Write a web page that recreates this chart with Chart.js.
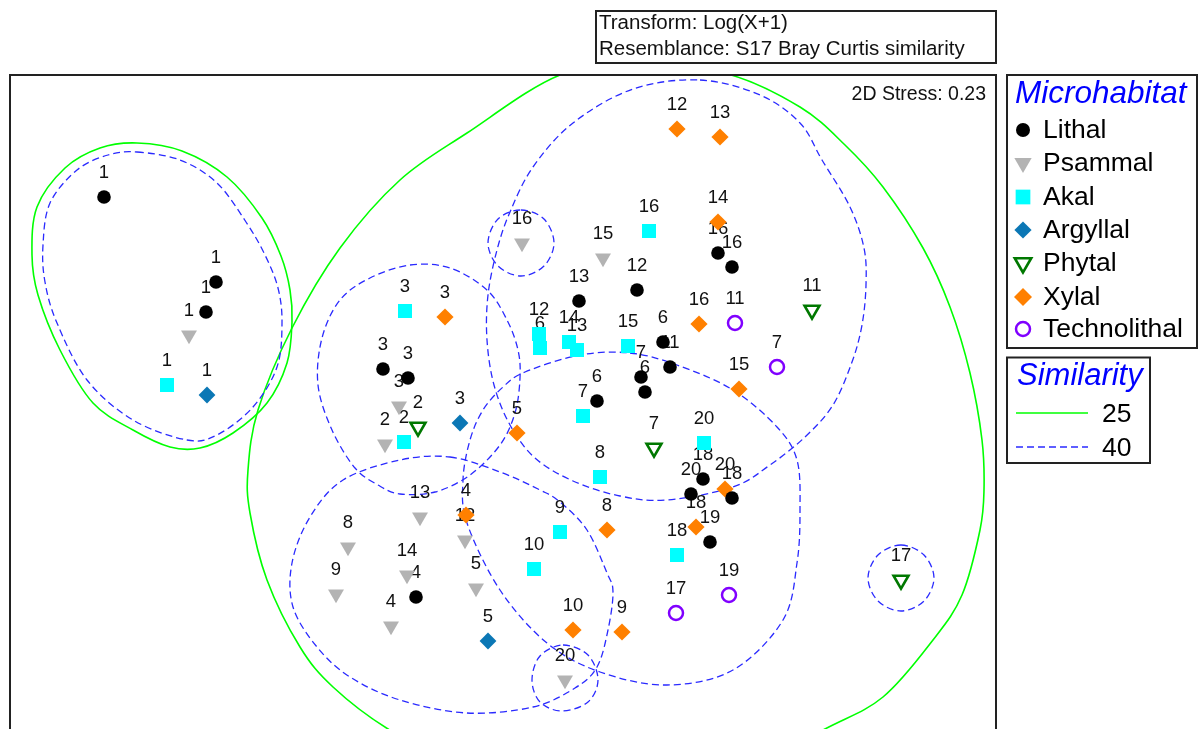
<!DOCTYPE html>
<html><head><meta charset="utf-8">
<script src="https://cdn.jsdelivr.net/npm/chart.js@4.4.1/dist/chart.umd.min.js"></script>
<style>html,body{margin:0;padding:0;background:#fff;overflow:hidden}canvas{display:block}</style>
</head><body>
<canvas id="c" width="1201" height="729"></canvas>
<script>
// ---------- data (NMDS configuration) ----------
const habitats = ['Lithal','Psammal','Akal','Argyllal','Phytal','Xylal','Technolithal'];

const lithalX   = [104,216,206,383,408,579,637,718,732,663,670,641,645,597,703,691,732,710,416];
const lithalY   = [197,282,312,369,378,301,290,253,267,342,367,377,392,401,479,494,498,542,597];
const lithalLab = ['1','1','1','3','3','13','12','16','16','6','11','7','6','6','18','20','18','19','4'];

const psammalX   = [189,399,385,522,603,420,348,336,391,407,465,476,565];
const psammalY   = [335,406,444,243,258,517,547,594,626,575,540,588,680];
const psammalLab = ['1','3','2','16','15','13','8','9','4','14','12','5','20'];

const akalX   = [167,405,404,539,540,569,577,628,583,600,704,649,560,534,677];
const akalY   = [385,311,442,334,348,342,350,346,416,477,443,231,532,569,555];
const akalLab = ['1','3','2','12','6','14','13','15','7','8','20','16','9','10','18'];

const argyllalX   = [207,460,488];
const argyllalY   = [395,423,641];
const argyllalLab = ['1','3','5'];

const phytalX   = [418,654,812,901];
const phytalY   = [427,448,310,580];
const phytalLab = ['2','7','11','17'];

const xylalX   = [677,720,718,445,699,739,517,466,607,573,622,725,696];
const xylalY   = [129,137,222,317,324,389,433,515,530,630,632,489,527];
const xylalLab = ['12','13','14','3','16','15','5','4','8','10','9','20','18'];

const technoX   = [735,777,676,729];
const technoY   = [323,367,613,595];
const technoLab = ['11','7','17','19'];

// similarity contours (25 % and 40 %), outline vertices in plot units
const sim25a = [[137,143],[182,151],[227,177],[262,218],[281,256],[290,290],[292,322],[287,363],[267,403],[233,433],[200,448],[170,447],[133,430],[93,403],[60,350],[38,295],[32,255],[37,207],[65,168],[100,148]];
const sim25b = [[644,63],[728,74],[800,107],[845,145],[883,187],[923,248],[950,307],[970,373],[982,440],[984,490],[980,530],[962,595],[933,640],[883,697],[825,729],[740,772],[606,790],[470,772],[388,729],[333,687],[300,647],[267,580],[250,513],[248,470],[258,410],[292,328],[340,248],[400,180],[467,133],[560,75]];
const sim40a = [[137,152],[180,160],[217,183],[246,222],[265,255],[278,288],[282,323],[277,367],[253,407],[217,435],[187,440],[133,420],[87,380],[57,323],[45,282],[43,245],[50,203],[77,170],[108,155]];
const sim40b = [[700,80],[760,95],[800,123],[822,160],[850,207],[864,248],[866,285],[862,325],[852,362],[833,405],[805,437],[770,465],[733,487],[667,500],[620,496],[573,481],[535,458],[510,425],[494,385],[487,340],[488,295],[497,250],[510,212],[533,167],[573,123],[633,89]];
const sim40c = [[410,265],[450,268],[487,290],[507,320],[518,350],[520,378],[515,413],[500,445],[470,475],[435,492],[400,494],[378,485],[355,468],[332,430],[318,385],[322,338],[340,300],[370,278]];
const sim40d = [[630,353],[677,365],[733,390],[777,427],[797,460],[800,510],[797,563],[783,620],[733,670],[667,685],[600,672],[547,643],[500,590],[467,523],[463,480],[470,440],[483,410],[503,387],[525,372],[580,355]];
const sim40e = [[450,457],[500,472],[540,490],[560,502],[587,530],[607,573],[613,592],[608,630],[597,667],[575,688],[533,707],[467,713],[400,700],[350,677],[317,647],[293,607],[292,563],[310,517],[343,480],[400,460]];
const sim40f = [[521,210],[544,219],[554,243],[544,266],[521,276],[498,266],[488,243],[498,219]];
const sim40g = [[901,545],[924,555],[934,578],[924,601],[901,611],[878,601],[868,578],[878,555]];
const sim40h = [[563,645],[588,655],[598,680],[588,702],[562,711],[540,702],[532,680],[540,656]];
const contours25 = [sim25a, sim25b];
const contours40 = [sim40a, sim40b, sim40c, sim40d, sim40e, sim40f, sim40g, sim40h];

const similarityLevels = ['25','40'];
const stressText = '2D Stress: 0.23';
const headerLines = ['Transform: Log(X+1)', 'Resemblance: S17 Bray Curtis similarity'];

// ---------- chart ----------
const FONT = 'Arial, "Liberation Sans", sans-serif';
const pts = (xs, ys) => xs.map((v, i) => ({x: v, y: ys[i]}));

const styles = [
  {style:'circle',   rot:0,   r:6.8, fill:'#000000', stroke:'#000000', bw:0,   lr:7},
  {style:'triangle', rot:180, r:9.2, fill:'#b3b3b3', stroke:'#b3b3b3', bw:0,   lr:10},
  {style:'rect',     rot:0,   r:9.9, fill:'#00ffff', stroke:'#00ffff', bw:0,   lr:10.4},
  {style:'rectRot',  rot:0,   r:8.4, fill:'#0b77b5', stroke:'#0b77b5', bw:0,   lr:8.6},
  {style:'triangle', rot:180, r:8.6, fill:'rgba(0,0,0,0)', stroke:'#007800', bw:2.6, lr:9.5},
  {style:'rectRot',  rot:0,   r:8.6, fill:'#ff8000', stroke:'#ff8000', bw:0,   lr:9},
  {style:'circle',   rot:0,   r:7,   fill:'rgba(0,0,0,0)', stroke:'#8000ff', bw:2.5, lr:7}
];
const seriesX = [lithalX, psammalX, akalX, argyllalX, phytalX, xylalX, technoX];
const seriesY = [lithalY, psammalY, akalY, argyllalY, phytalY, xylalY, technoY];
const seriesL = [lithalLab, psammalLab, akalLab, argyllalLab, phytalLab, xylalLab, technoLab];

const datasets = habitats.map((h, i) => ({
  label: h,
  data: pts(seriesX[i], seriesY[i]),
  sampleLabels: seriesL[i],
  showLine: false,
  pointStyle: styles[i].style,
  pointRotation: styles[i].rot,
  pointRadius: styles[i].r,
  pointHoverRadius: styles[i].r,
  pointBackgroundColor: styles[i].fill,
  backgroundColor: styles[i].fill,
  pointBorderColor: styles[i].stroke,
  borderColor: styles[i].stroke,
  pointBorderWidth: styles[i].bw,
  borderWidth: styles[i].bw
}));

function closedSpline(ctx, p) {
  const n = p.length;
  ctx.beginPath();
  ctx.moveTo(p[0][0], p[0][1]);
  for (let i = 0; i < n; i++) {
    const p0 = p[(i - 1 + n) % n], p1 = p[i], p2 = p[(i + 1) % n], p3 = p[(i + 2) % n];
    ctx.bezierCurveTo(p1[0] + (p2[0] - p0[0]) / 6, p1[1] + (p2[1] - p0[1]) / 6,
                      p2[0] - (p3[0] - p1[0]) / 6, p2[1] - (p3[1] - p1[1]) / 6,
                      p2[0], p2[1]);
  }
  ctx.closePath();
}

function marker(ctx, s, x, y, r) {
  ctx.save();
  ctx.fillStyle = s.fill; ctx.strokeStyle = s.stroke; ctx.lineWidth = s.bw;
  if (Chart.helpers && Chart.helpers.drawPoint) {
    Chart.helpers.drawPoint(ctx, {pointStyle: s.style, rotation: s.rot, radius: r, borderWidth: s.bw}, x, y);
  }
  ctx.restore();
}

const decor = {
  id: 'nmdsDecor',
  beforeDatasetsDraw(chart) {
    const {ctx, chartArea: a, scales: {x, y}} = chart;
    const toPx = c => c.map(q => [x.getPixelForValue(q[0]), y.getPixelForValue(q[1])]);
    ctx.save();
    ctx.beginPath(); ctx.rect(a.left, a.top, a.right - a.left, a.bottom - a.top); ctx.clip();
    ctx.lineJoin = 'round';
    ctx.strokeStyle = '#00ff00'; ctx.lineWidth = 1.6; ctx.setLineDash([]);
    contours25.forEach(c => { closedSpline(ctx, toPx(c)); ctx.stroke(); });
    ctx.strokeStyle = '#2a2aff'; ctx.lineWidth = 1.3; ctx.setLineDash([7, 4]);
    contours40.forEach(c => { closedSpline(ctx, toPx(c)); ctx.stroke(); });
    ctx.setLineDash([]);
    // sample labels
    ctx.fillStyle = '#111'; ctx.font = '18.5px ' + FONT;
    ctx.textAlign = 'center'; ctx.textBaseline = 'alphabetic';
    chart.data.datasets.forEach((ds, i) => {
      chart.getDatasetMeta(i).data.forEach((el, j) => ctx.fillText(ds.sampleLabels[j], el.x, el.y - 19));
    });
    ctx.restore();
  },
  afterDraw(chart) {
    const ctx = chart.ctx, a = chart.chartArea;
    ctx.save();
    ctx.strokeStyle = '#222'; ctx.lineWidth = 2;
    // plot frame (open at the bottom edge of the picture)
    ctx.strokeRect(a.left, a.top, a.right - a.left, 700);
    // header box
    ctx.strokeRect(596, 11, 400, 52);
    ctx.fillStyle = '#111'; ctx.font = '20.5px ' + FONT; ctx.textAlign = 'left'; ctx.textBaseline = 'alphabetic';
    ctx.fillText(headerLines[0], 599, 29);
    ctx.fillText(headerLines[1], 599, 55);
    // stress
    ctx.font = '19.5px ' + FONT; ctx.textAlign = 'right';
    ctx.fillText(stressText, 986, 100);
    // legend box
    ctx.strokeRect(1007, 75, 190, 273);
    ctx.textAlign = 'left';
    ctx.fillStyle = '#0000ff'; ctx.font = 'italic 31.5px ' + FONT;
    ctx.fillText('Microhabitat', 1015, 103);
    ctx.font = '26.5px ' + FONT; ctx.fillStyle = '#000';
    const rowY = [130, 163, 197, 230, 263, 297, 329];
    habitats.forEach((h, i) => {
      marker(ctx, styles[i], 1023, rowY[i], styles[i].lr);
      ctx.fillStyle = '#000';
      ctx.fillText(h, 1043, rowY[i] + 8);
    });
    // similarity box
    ctx.strokeStyle = '#222'; ctx.lineWidth = 2;
    ctx.strokeRect(1007, 357.5, 143, 105.5);
    ctx.fillStyle = '#0000ff'; ctx.font = 'italic 31px ' + FONT;
    ctx.fillText('Similarity', 1017, 385);
    ctx.strokeStyle = '#00ff00'; ctx.lineWidth = 1.6;
    ctx.beginPath(); ctx.moveTo(1016, 413); ctx.lineTo(1088, 413); ctx.stroke();
    ctx.strokeStyle = '#2a2aff'; ctx.lineWidth = 1.3; ctx.setLineDash([7, 4]);
    ctx.beginPath(); ctx.moveTo(1016, 447); ctx.lineTo(1088, 447); ctx.stroke();
    ctx.setLineDash([]);
    ctx.fillStyle = '#000'; ctx.font = '26.5px ' + FONT;
    ctx.fillText(similarityLevels[0], 1102, 422);
    ctx.fillText(similarityLevels[1], 1102, 456);
    ctx.restore();
  }
};

new Chart(document.getElementById('c'), {
  type: 'scatter',
  data: {datasets},
  options: {
    responsive: false,
    animation: false,
    events: [],
    layout: {padding: {left: 10, top: 75, right: 205, bottom: 0}, autoPadding: false},
    scales: {
      x: {type: 'linear', min: 10, max: 996, display: false},
      y: {type: 'linear', min: 75, max: 729, reverse: true, display: false}
    },
    plugins: {legend: {display: false}, tooltip: {enabled: false}, title: {display: false}}
  },
  plugins: [decor]
});
</script>
</body></html>
